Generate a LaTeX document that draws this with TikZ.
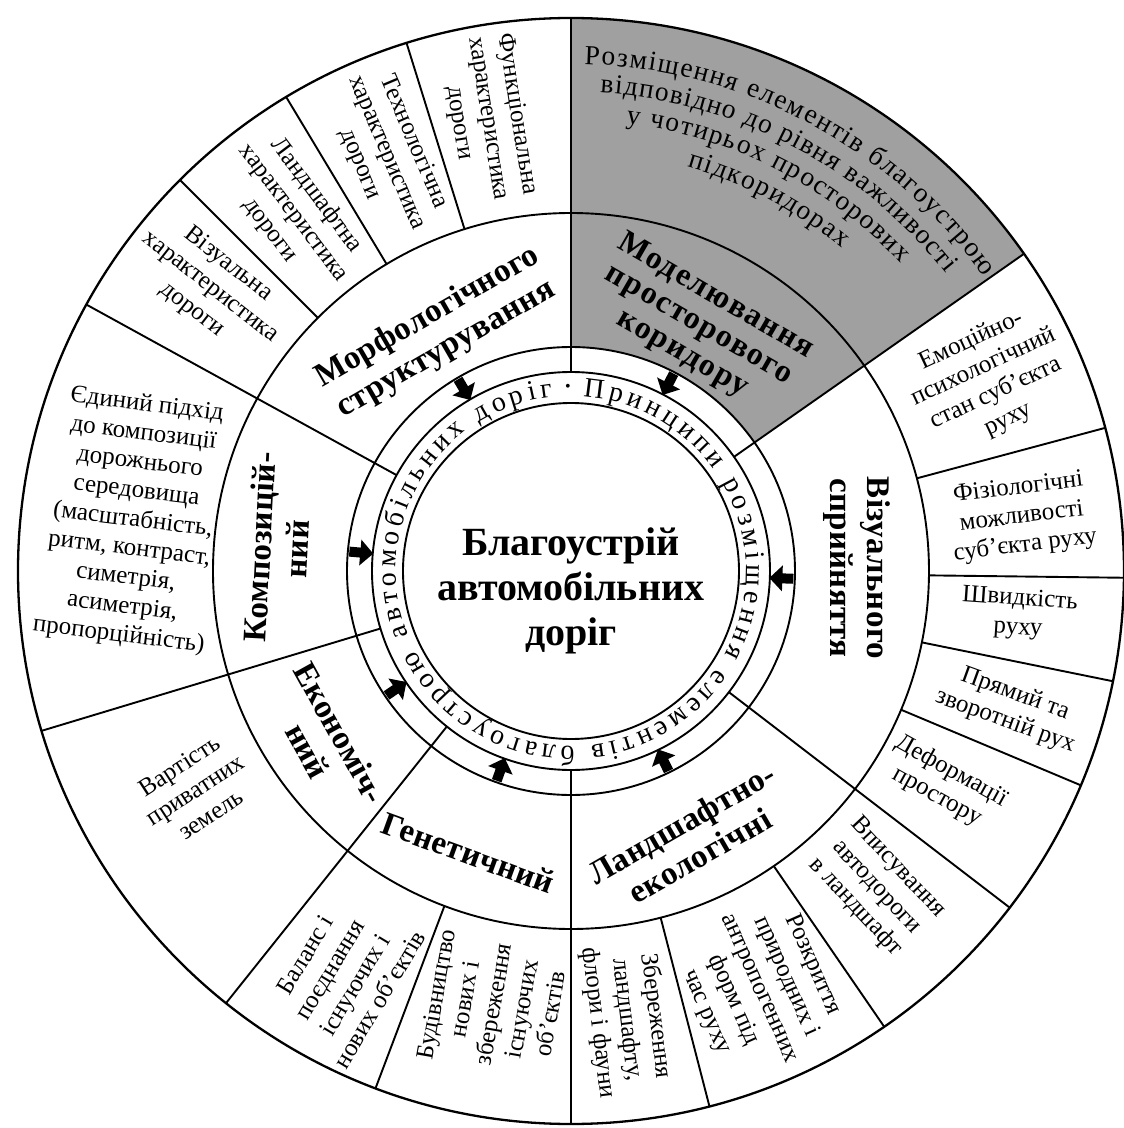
\documentclass[tikz,border=0pt]{standalone}
\usepackage{fontspec}
\setmainfont{Liberation Serif}
\usetikzlibrary{decorations.text}
\definecolor{sectorgray}{RGB}{160,160,160}
\newcommand\ringfont{\fontsize{28}{28}\selectfont}
\newcommand\grayfont{\fontsize{27.5}{27.5}\selectfont}
\tikzset{
  ln/.style={line width=1.9pt, draw=black},
  otext/.style={align=center, inner sep=0pt, font=\fontsize{25}{29}\selectfont},
  ptext/.style={align=center, inner sep=0pt, font=\bfseries\fontsize{33}{37}\selectfont\addfontfeature{LetterSpace=1}},
  mtext/.style={align=center, inner sep=0pt, font=\bfseries\fontsize{32}{33}\selectfont\addfontfeature{LetterSpace=5}},
  arctext/.style={decorate, decoration={text along path, text={|\grayfont|#1}, text align={fit to path}}},
  inarrow/.pic={\fill[black] (-11,-5) -- (0,-5) -- (0,-13) -- (13,0) -- (0,13) -- (0,5) -- (-11,5) -- cycle;}
}
\begin{document}
\begin{tikzpicture}[x=1pt,y=1pt]
\useasboundingbox (-571,-557) rectangle (553,571);
\fill[white] (-571,-557) rectangle (553,571);
\coordinate (O) at (0,0);
% gray sector
\fill[sectorgray] (35:224) arc[start angle=35,end angle=90,radius=224] -- (90:553) arc[start angle=90,end angle=35,radius=553] -- cycle;
% circles
\foreach \r in {168,199,224,358} \draw[ln] (O) circle[radius=\r];
\draw[line width=2.3pt] (O) circle[radius=553];
% principle sector lines
\foreach \a in {90,35,-37.5,-90,231.4,196.8,151.2} \draw[ln] (\a:199) -- (\a:553);
% outer dividers
\foreach \a in {107.3,121,135,249.3,-75.5,-55.5,-22.8,-11.5,-0.7,15} \draw[ln] (\a:358) -- (\a:553);
% ring text
\path[decorate, decoration={text along path, text={|\ringfont|Принципи розміщення елементів благоустрою автомобільних доріг}, text align={fit to path}}] (86:175) arc[start angle=86, end angle=-264, radius=175];
\node[inner sep=0pt, font=\fontsize{16}{16}\selectfont] (dot) at (91:183) {\textbullet};
% arrows
\foreach \a in {120.5,62.5,-2,-64,250.5,214,175} \pic[rotate=\a+180] at (\a:211.5) {inarrow};
% centre
\node[align=center, inner sep=0pt, font=\bfseries\fontsize{40}{45}\selectfont] (title) at (0,-20) {Благоустрій\\автомобільних\\доріг};
% principles
\node[mtext, rotate=-30] (model) at (62.5:277) {Моделювання\\просторового\\коридору};
\node[ptext, rotate=30] (morph) at (119.4:273) {Морфологічного\\структурування};
\node[ptext, rotate=87] (comp) at (175.5:294) {Композицій-\\ний};
\node[ptext, rotate=-61] (econ) at (214.7:300) {Економіч-\\ний};
\node[ptext, rotate=-20] (gen) at (250:300) {Генетичний};
\node[ptext, rotate=30] (land) at (-66:294) {Ландшафтно-\\екологічні};
\node[ptext, rotate=-90] (vis) at (0.6:286) {Візуального\\сприйняття};
% gray outer element (curved lines)
\path[arctext={Розміщення елементів благоустрою}] (88.5:507) arc[start angle=88.5, end angle=35.5, radius=507];
\path[arctext={відповідно до рівня важливості}] (86.5:479) arc[start angle=86.5, end angle=38.5, radius=479];
\path[arctext={у чотирьох просторових}] (83:451) arc[start angle=83, end angle=43, radius=451];
\path[arctext={підкоридорах}] (74:421) arc[start angle=74, end angle=50, radius=421];
% outer elements
\node[otext, rotate=-81] (o1) at (100.4:460) {Функціональна\\характеристика\\дороги};
\node[otext, rotate=-67] (o2) at (113.8:457) {Технологічна\\характеристика\\дороги};
\node[otext, rotate=-53] (o3) at (127.8:453) {Ландшафтна\\характеристика\\дороги};
\node[otext, rotate=-38] (o4) at (141.8:459) {Візуальна\\характеристика\\дороги};
\node[otext, rotate=-7] (o5) at (173.4:441) {Єдиний підхід\\до композиції\\дорожнього\\середовища\\(масштабність,\\ритм, контраст,\\симетрія,\\асиметрія,\\пропорційність)};
\node[otext, rotate=33] (o6) at (210.2:435) {Вартість\\приватних\\земель};
\node[otext, rotate=59] (o7) at (240.6:466) {Баланс і\\поєднання\\існуючих і\\нових об’єктів};
\node[otext, rotate=80] (o8) at (259.8:440) {Будівництво\\нових і\\збереження\\існуючих\\об’єктів};
\node[otext, rotate=-83] (o9) at (-82.9:452) {Збереження\\ландшафту,\\флори і фауни};
\node[otext, rotate=-66] (o10) at (-65.7:458) {Розкриття\\природних і\\антропогенних\\форм під\\час руху};
\node[otext, rotate=-47] (o11) at (-46:440) {Вписування\\автодороги\\в ландшафт};
\node[otext, rotate=-29] (o12) at (-29.7:430) {Деформації\\простору};
\node[otext, rotate=-20] (o13) at (-17.3:460) {Прямий та\\зворотній рух};
\node[otext, rotate=-4] (o14) at (-5.5:450) {Швидкість\\руху};
\node[otext, rotate=7] (o15) at (6.8:454) {Фізіологічні\\можливості\\суб’єкта руху};
\node[otext, rotate=25] (o16) at (24.5:460) {Емоційно-\\психологічний\\стан суб’єкта\\руху};
\end{tikzpicture}
\end{document}
